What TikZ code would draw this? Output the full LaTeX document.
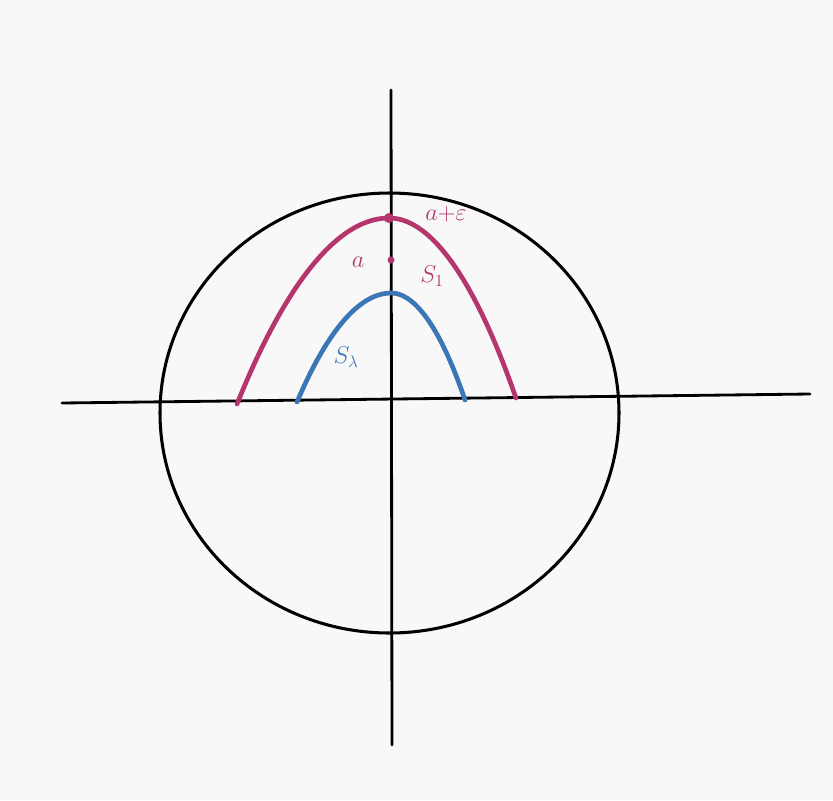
\documentclass[tikz,border=0pt]{standalone}
\usepackage{amsmath}
\definecolor{curvemag}{HTML}{B5366C}
\definecolor{curveblue}{HTML}{3B76B6}
\definecolor{paper}{HTML}{F9F8F8}
\begin{document}
\begin{tikzpicture}[x=0.03cm,y=-0.03cm,line cap=round,
  axis/.style={line width=2.4pt,black},
  ring/.style={line width=2.6pt,black},
  curve/.style={line width=4pt},
  lbl/.style={font=\fontsize{22}{26}\selectfont,inner sep=1pt}]
% paper
\fill[paper] (0,0) rectangle (833,800);
\useasboundingbox (0,0) rectangle (833,800);
% axes
\coordinate (xl) at (62,403);
\coordinate (xr) at (810,394);
\coordinate (yt) at (391,90);
\coordinate (yb) at (392,745);
\draw[axis] (xl) -- (xr);
\draw[axis] (yt) -- (yb);
% circle
\coordinate (centre) at (389.5,413);
\draw[ring] (centre) ellipse [x radius=229.5,y radius=220];
% curves S_1 and S_lambda
\coordinate (top1) at (389,218);
\coordinate (toplam) at (391,293);
\draw[curve,curvemag] (237,404) parabola bend (top1) (516,398);
\draw[curve,curveblue] (297,402) parabola bend (toplam) (465,400);
% points a and a+eps
\coordinate (pa) at (391,260);
\fill[curvemag] (top1) circle (5);
\fill[curvemag] (pa) circle (3.5);
\node[lbl,curvemag] (la) at (358,262) {$a$};
\node[lbl,curvemag] (lae) at (446,214) {$a{+}\varepsilon$};
\node[lbl,curvemag] (ls1) at (432,276) {$S_1$};
\node[lbl,curveblue] (lslam) at (346,357) {$S_\lambda$};
\end{tikzpicture}
\end{document}
